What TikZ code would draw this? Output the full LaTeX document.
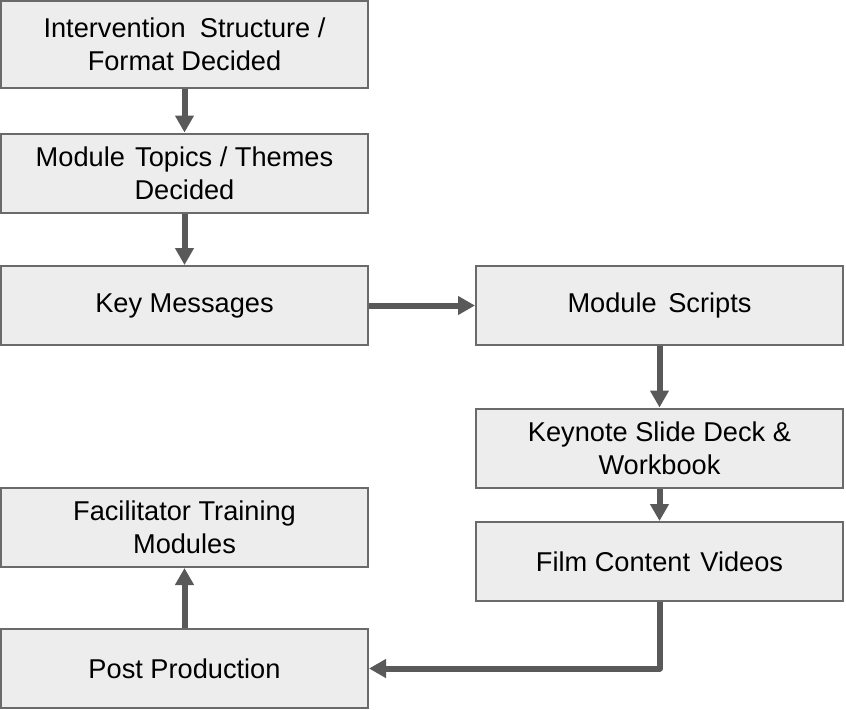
\documentclass[tikz,border=0pt]{standalone}
\usepackage{fontspec}
\setmainfont{Liberation Sans}
\usetikzlibrary{arrows.meta, positioning, calc}
\definecolor{boxFill}{HTML}{EDEDED}
\definecolor{boxEdge}{HTML}{6A6A6A}
\definecolor{flowGray}{HTML}{595959}
\tikzset{
    procBox/.style={rectangle, draw=boxEdge, fill=boxFill, line width=1pt, minimum width=183.5pt, minimum height=39.5pt, align=center, inner sep=2pt, font=\fontsize{13.6}{16.5}\selectfont},
    flowLine/.style={-{Triangle[length=8.5pt, width=9pt]}, draw=flowGray, line width=3pt}
}

\begin{document}
\begin{tikzpicture}[x=0.5pt, y=-0.5pt]

        % Page frame
        \useasboundingbox (0,0) rectangle (846,709);

        % Left column
        \node[procBox, minimum height=43.5pt] (structure) at (184.5, 44.5) {Intervention\hspace{0.25em} Structure /\\Format Decided};
        \node[procBox] (topics) at (184.5, 173) {Module\hspace{0.1em} Topics / Themes\\Decided};
        \node[procBox] (messages) at (184.5, 305.5) {Key Messages};
        \node[procBox] (training) at (184.5, 527.5) {Facilitator Training\\Modules};
        \node[procBox] (postprod) at (184.5, 668.5) {Post Production};

        % Right column
        \node[procBox] (scripts) at (659.5, 305.5) {Module\hspace{0.15em} Scripts};
        \node[procBox] (keynote) at (659.5, 448) {Keynote Slide Deck \&\\Workbook};
        \node[procBox] (film) at (659.5, 561.5) {Film Content\hspace{0.1em} Videos};

        % Bend of the return line
        \coordinate (bend) at (film.center |- postprod.center);

        % Arrows
        \draw[flowLine] (structure) -- (topics);
        \draw[flowLine] (topics) -- (messages);
        \draw[flowLine] (messages) -- (scripts);
        \draw[flowLine] (scripts) -- (keynote);
        \draw[flowLine] (keynote) -- (film);
        \draw[flowLine, line join=round] (film) -- (bend) -- (postprod);
        \draw[flowLine] (postprod) -- (training);

    \end{tikzpicture}
\end{document}
